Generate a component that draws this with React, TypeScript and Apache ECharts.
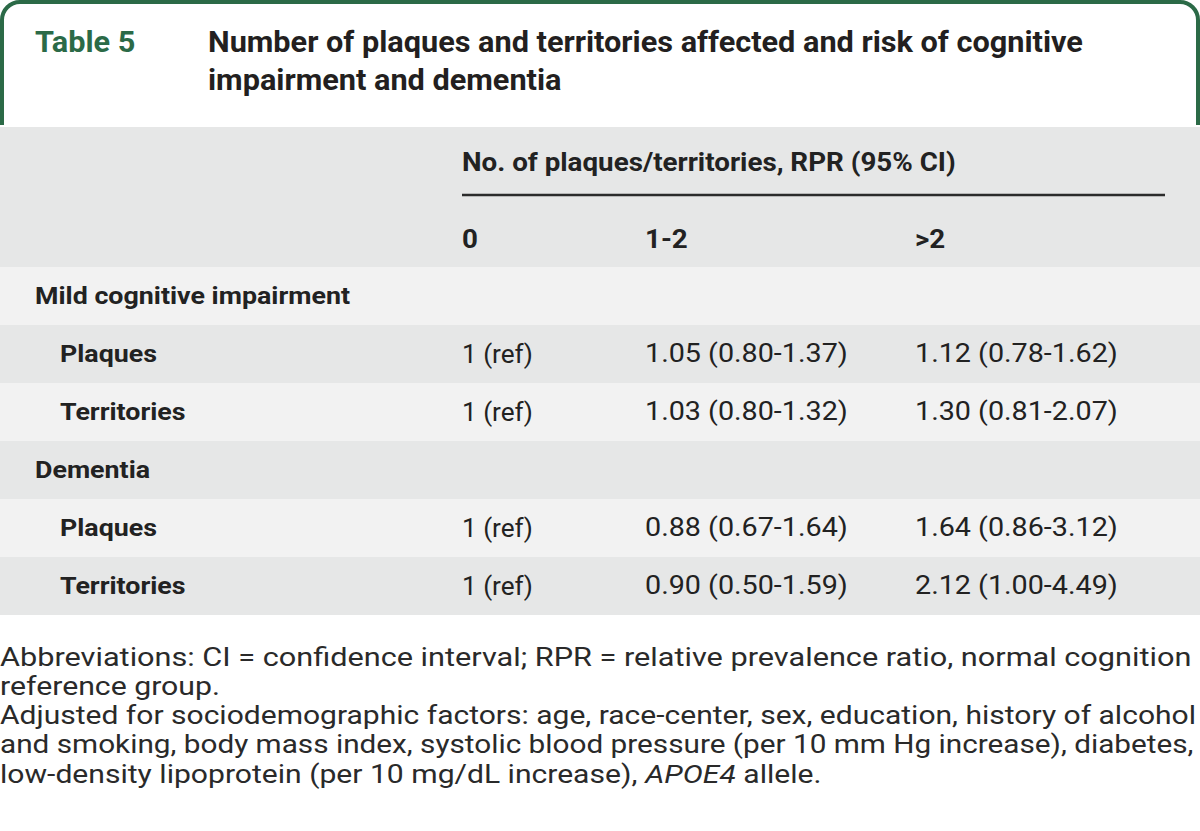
import React, { useEffect, useRef } from "react";
import * as echarts from "echarts";

const tableLabel = "Table 5";
const titleLines = [
  "Number of plaques and territories affected and risk of cognitive",
  "impairment and dementia",
];
const spanHeader = "No. of plaques/territories, RPR (95% CI)";
const columnHeaders = ["0", "1-2", ">2"];
const groups = ["Mild cognitive impairment", "Dementia"];
const subRows = ["Plaques", "Territories"];
const mciValues = [
  ["1 (ref)", "1.05 (0.80-1.37)", "1.12 (0.78-1.62)"],
  ["1 (ref)", "1.03 (0.80-1.32)", "1.30 (0.81-2.07)"],
];
const dementiaValues = [
  ["1 (ref)", "0.88 (0.67-1.64)", "1.64 (0.86-3.12)"],
  ["1 (ref)", "0.90 (0.50-1.59)", "2.12 (1.00-4.49)"],
];
const footnotes = [
  "Abbreviations: CI = confidence interval; RPR = relative prevalence ratio, normal cognition",
  "reference group.",
  "Adjusted for sociodemographic factors: age, race-center, sex, education, history of alcohol",
  "and smoking, body mass index, systolic blood pressure (per 10 mm Hg increase), diabetes,",
  "low-density lipoprotein (per 10 mg/dL increase), {i|APOE4} allele.",
];
const footnoteWidths = [1192, 220, 1196, 1194, 824];

const GREEN = "#2b6a47";
const TEXT = "#222222";
const FONT = "Roboto, 'Noto Sans', sans-serif";

export default function App() {
  const ref = useRef<HTMLDivElement>(null);
  useEffect(() => {
    if (!ref.current) return;
    const chart = echarts.init(ref.current, undefined, { renderer: "svg" });
    const els: any[] = [];
    const ctx = document.createElement("canvas").getContext("2d") as CanvasRenderingContext2D;
    const fit = (text: string, font: string, target: number) => {
      ctx.font = font;
      const w = ctx.measureText(text).width;
      return w > 0 ? target / w : 1;
    };

    const txt = (x: number, y: number, text: string, font: string, fill: string, sx: number, extra: any = {}) => ({
      type: "text",
      x,
      y,
      scaleX: sx,
      style: { text, fill, font, verticalAlign: "middle", ...extra },
    });

    // Title box border
    els.push({
      type: "rect",
      shape: { x: 2, y: 2, width: 1196, height: 140, r: [18, 18, 0, 0] },
      style: { fill: "#ffffff", stroke: GREEN, lineWidth: 4 },
    });
    els.push({
      type: "rect",
      shape: { x: 0, y: 125, width: 1200, height: 2 },
      style: { fill: "#ffffff" },
    });
    els.push(txt(35, 42, tableLabel, `bold 29.5px ${FONT}`, GREEN, 1.04));
    titleLines.forEach((t, i) => {
      els.push(txt(208, 42 + i * 38, t, `bold 29.5px ${FONT}`, "#231f20", 1.04));
    });

    // Header
    els.push({
      type: "rect",
      shape: { x: 0, y: 127, width: 1200, height: 140 },
      style: { fill: "#e6e7e7" },
    });
    els.push(txt(462, 162, spanHeader, `bold 25px ${FONT}`, TEXT, 1.11));
    els.push({
      type: "line",
      shape: { x1: 462, y1: 195, x2: 1165, y2: 195 },
      style: { stroke: "#2b2b2b", lineWidth: 2.5 },
    });
    const colX = [462, 645, 915];
    columnHeaders.forEach((c, i) => {
      els.push(txt(colX[i], 239, c, `bold 25px ${FONT}`, TEXT, 1.11));
    });

    // Body rows
    const rows: { label: string; indent: boolean; values: string[] | null }[] = [];
    const groupVals = [mciValues, dementiaValues];
    groups.forEach((g, gi) => {
      rows.push({ label: g, indent: false, values: null });
      subRows.forEach((s, si) => rows.push({ label: s, indent: true, values: groupVals[gi][si] }));
    });
    const rowH = 58;
    const valFont = `25px ${FONT}`;
    rows.forEach((r, i) => {
      const y0 = 267 + i * rowH;
      els.push({
        type: "rect",
        shape: { x: 0, y: y0, width: 1200, height: rowH },
        style: { fill: i % 2 === 0 ? "#f2f2f2" : "#e6e7e7" },
      });
      els.push(txt(r.indent ? 60 : 35, y0 + 29, r.label, `bold 24px ${FONT}`, TEXT, 1.117));
      if (r.values) {
        r.values.forEach((v, ci) => {
          const target = ci === 0 ? 71 : 203;
          els.push(txt(colX[ci], y0 + 29, v, valFont, TEXT, fit(v, valFont, target)));
        });
      }
    });

    // Footnotes
    const fnFont = `26px ${FONT}`;
    footnotes.forEach((f, i) => {
      const plain = f.replace(/\{i\|([^}]*)\}/g, "$1");
      els.push(
        txt(0, 657 + i * 29.2, f, fnFont, "#2a2a2a", fit(plain, fnFont, footnoteWidths[i]), {
          rich: {
            i: { fontStyle: "italic", fontSize: 26, fontFamily: FONT, fill: "#2a2a2a" },
          },
        })
      );
    });

    chart.setOption({
      animation: false,
      backgroundColor: "#ffffff",
      graphic: { elements: els },
    });
    return () => chart.dispose();
  }, []);
  return (
    <div
      ref={ref}
      style={{ position: "absolute", left: 0, top: 0, width: 1200, height: 831 }}
    />
  );
}
